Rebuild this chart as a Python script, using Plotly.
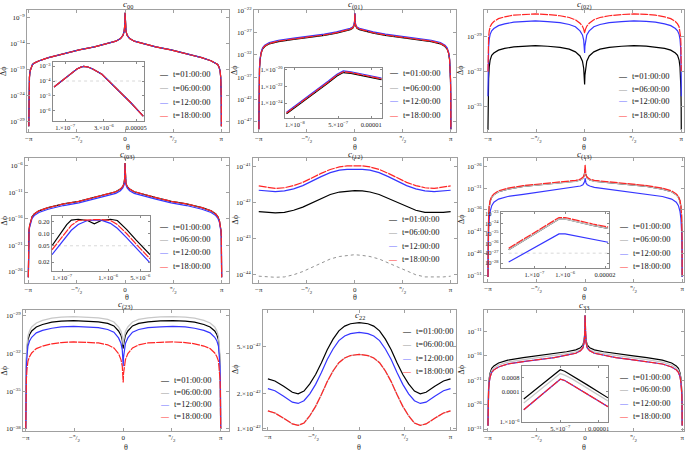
import plotly.graph_objects as go

W, H = 685, 452
PI = 3.141592653589793
FONT = "Liberation Serif"

# ---------------- data (log10 of Δϕ) ----------------
TIMES = ["t=01:00:00", "t=06:00:00", "t=12:00:00", "t=18:00:00"]

# theta samples on the left half (-π..0); every curve is mirror symmetric in θ
TH_CUSP = [-PI, -3.138, -3.13, -3.12, -3.10, -3.07, -3.02, -2.95, -2.8, -2.5,
           -2.0, -1.5, -1.0, -0.6, -0.3, -0.15, -0.07, -0.03, -0.01, 0.0]
TH_DIP = [-PI, -3.138, -3.13, -3.12, -3.10, -3.07, -3.02, -2.95, -2.8, -2.6, -2.3,
          -2.0, -1.6, -1.2, -0.8, -0.5, -0.3, -0.15, -0.07, -0.03, -0.01, 0.0]
TH_C12 = [-PI, -2.9, -2.6, -2.3, -2.0, -1.7, -1.4, -1.1, -0.8, -0.5, -0.25, 0.0]
TH_C22 = [-PI, -2.9, -2.6, -2.3, -2.1, -1.9, -1.7, -1.5, -1.3, -1.1, -0.9, -0.7, -0.5, -0.3, 0.0]

c00_all = [-30.0, -24.5, -22.0, -20.5, -19.3, -18.6, -18.0, -17.7, -17.3, -16.7,
           -15.9, -15.2, -14.6, -14.0, -13.5, -13.0, -12.4, -11.6, -10.4, -8.0]

c01_t01 = [-48.7, -41.1, -37.6, -35.1, -33.1, -31.7, -30.7, -30.1, -29.5, -29.0,
           -28.5, -28.1, -27.6, -27.1, -26.6, -26.3, -26.0, -25.5, -24.7, -22.7]
c01_t06 = [-48.7, -41.0, -37.5, -35.0, -33.0, -31.6, -30.6, -30.0, -29.4, -28.9,
           -28.4, -28.0, -27.5, -27.0, -26.5, -26.2, -25.9, -25.4, -24.6, -22.7]
c01_t12 = [-48.7, -40.8, -37.3, -34.8, -32.8, -31.4, -30.4, -29.8, -29.2, -28.7,
           -28.2, -27.8, -27.3, -26.8, -26.3, -26.0, -25.7, -25.2, -24.4, -22.6]
c01_t18 = c01_t06

c02_t01 = [-37.0, -35.0, -33.5, -32.6, -31.6, -31.0, -30.6, -30.4, -30.15, -30.0, -29.87,
           -29.8, -29.77, -29.82, -29.92, -30.07, -30.3, -30.65, -31.1, -31.7, -32.3, -33.1]
c02_t12 = [-34.1, -32.0, -30.7, -29.9, -29.2, -28.8, -28.5, -28.3, -28.05, -27.9, -27.75,
           -27.68, -27.65, -27.7, -27.8, -27.95, -28.15, -28.5, -28.85, -29.3, -29.8, -30.4]
c02_t18 = [-32.0, -30.5, -29.6, -29.0, -28.5, -28.15, -27.9, -27.7, -27.45, -27.3, -27.15,
           -27.08, -27.05, -27.1, -27.2, -27.35, -27.55, -27.85, -28.1, -28.35, -28.55, -28.7]

c03_t01 = [-27.0, -21.5, -19.3, -18.2, -17.3, -16.4, -15.6, -15.1, -14.5, -13.9,
           -13.2, -12.7, -12.0, -11.4, -10.9, -10.4, -9.9, -9.3, -8.3, -5.5]
c03_t12 = [-27.0, -21.8, -19.6, -18.5, -17.6, -16.7, -15.9, -15.4, -14.8, -14.2,
           -13.5, -13.0, -12.3, -11.7, -11.2, -10.7, -10.2, -9.6, -8.6, -5.6]

c12_t01 = [-42.25, -42.27, -42.28, -42.27, -42.21, -42.12, -42.0, -41.88, -41.77, -41.7, -41.67, -41.66]
c12_t06 = [-44.05, -44.07, -44.08, -44.07, -44.01, -43.92, -43.8, -43.68, -43.57, -43.5, -43.47, -43.45]
c12_t12 = [-41.65, -41.67, -41.69, -41.67, -41.61, -41.52, -41.39, -41.27, -41.16, -41.09, -41.07, -41.06]
c12_t18 = [-41.53, -41.56, -41.6, -41.58, -41.52, -41.43, -41.3, -41.18, -41.07, -41.0, -40.97, -40.96]

c13_t01 = [-51.4, -43.0, -39.5, -37.3, -35.3, -34.0, -33.1, -32.5, -31.8, -31.2,
           -30.6, -30.2, -29.9, -29.6, -29.4, -29.1, -28.7, -28.2, -27.6, -26.6]
c13_t12 = [-51.4, -45.0, -42.0, -40.0, -38.0, -36.3, -35.0, -34.2, -33.5, -32.9,
           -32.4, -31.9, -31.5, -31.1, -30.8, -30.5, -30.2, -29.8, -29.4, -28.7]
c13_t18 = [-51.4, -42.8, -39.3, -37.1, -35.1, -33.8, -32.9, -32.3, -31.6, -31.0,
           -30.4, -30.0, -29.7, -29.4, -29.2, -28.9, -28.5, -28.0, -27.3, -25.6]

c23_t01 = [-38.0, -35.0, -33.5, -32.5, -31.6, -30.9, -30.5, -30.2, -29.88, -29.68, -29.5,
           -29.41, -29.37, -29.4, -29.47, -29.6, -29.8, -30.2, -30.55, -30.95, -31.3, -31.6]
c23_t06 = [-38.0, -34.7, -33.2, -32.2, -31.3, -30.6, -30.2, -29.88, -29.56, -29.36, -29.18,
           -29.09, -29.05, -29.08, -29.15, -29.28, -29.48, -29.88, -30.23, -30.63, -30.98, -31.3]
c23_t12 = [-38.0, -35.5, -34.0, -33.0, -32.1, -31.4, -31.0, -30.7, -30.35, -30.15, -29.98,
           -29.88, -29.84, -29.87, -29.93, -30.08, -30.3, -30.75, -31.2, -31.7, -32.3, -33.0]
c23_t18 = [-38.0, -36.0, -34.8, -34.0, -33.2, -32.6, -32.25, -31.95, -31.6, -31.4, -31.22,
           -31.12, -31.07, -31.1, -31.15, -31.3, -31.55, -32.0, -32.5, -33.0, -33.6, -34.3]

# c22 in units of 1e-42
c22_t01 = [2.65, 2.54, 2.29, 2.04, 1.98, 2.09, 2.40, 2.88, 3.63, 4.68, 5.75, 6.76, 7.41, 7.76, 7.94]
c22_t12 = [2.19, 2.10, 1.89, 1.68, 1.64, 1.73, 1.98, 2.38, 3.00, 3.86, 4.74, 5.58, 6.11, 6.40, 6.56]
c22_t18 = [1.42, 1.36, 1.23, 1.10, 1.07, 1.12, 1.29, 1.55, 1.95, 2.51, 3.09, 3.63, 3.98, 4.17, 4.27]

c33_t01 = [-30.3, -25.5, -23.3, -22.0, -20.6, -19.5, -18.6, -18.1, -17.5, -16.9,
           -16.4, -16.0, -15.6, -15.2, -14.8, -14.4, -13.8, -12.8, -11.3, -7.66]
c33_t06 = [-30.3, -25.9, -23.7, -22.4, -21.0, -19.9, -19.0, -18.5, -17.9, -17.3,
           -16.8, -16.4, -16.0, -15.6, -15.2, -14.8, -14.2, -13.1, -11.5, -7.7]
c33_t18 = [-30.3, -26.3, -24.1, -22.8, -21.4, -20.3, -19.4, -18.9, -18.3, -17.7,
           -17.2, -16.8, -16.4, -15.9, -15.5, -15.0, -14.4, -13.3, -11.7, -7.8]

# insets: log10(θ) vs log10(Δϕ)
in00_x = [-7.42, -7.1, -6.8, -6.55, -6.4, -6.3, -6.15, -5.95, -5.6, -5.0, -4.5, -4.03]
in00_y = [-4.4, -3.95, -3.52, -3.2, -3.07, -3.02, -3.05, -3.2, -3.55, -4.55, -5.45, -6.35]
in00_ref = -4.0

in01_x = [-8.33, -7.8, -7.2, -6.7, -6.35, -6.1, -5.8, -5.3, -4.6]
in01_t01 = [-25.3, -24.1, -22.8, -21.6, -20.75, -20.35, -20.45, -20.75, -21.2]
in01_t06 = [-25.2, -24.0, -22.7, -21.5, -20.65, -20.25, -20.35, -20.65, -21.1]
in01_t12 = [-25.1, -23.9, -22.6, -21.4, -20.55, -20.15, -20.25, -20.55, -21.0]

in03_x = [-7.22, -7.05, -6.9, -6.8, -6.65, -6.45, -6.3, -6.15, -5.95, -5.8, -5.6, -5.4, -5.2, -5.09]
in03_t01 = [-1.3, -1.02, -0.78, -0.67, -0.65, -0.68, -0.76, -0.68, -0.65, -0.68, -0.9, -1.15, -1.4, -1.52]
in03_t12 = [-1.52, -1.28, -1.05, -0.92, -0.78, -0.68, -0.67, -0.67, -0.75, -0.87, -1.1, -1.35, -1.6, -1.72]
in03_t18 = [-1.4, -1.15, -0.92, -0.8, -0.68, -0.66, -0.66, -0.66, -0.68, -0.78, -1.0, -1.25, -1.5, -1.62]
in03_ref = -1.301

in13_x = [-7.84, -7.5, -7.1, -6.7, -6.4, -6.2, -6.0, -5.6, -5.1, -4.6]
in13_t01 = [-26.65, -26.0, -25.25, -24.5, -23.9, -23.55, -23.55, -23.85, -24.2, -24.5]
in13_t12 = [-27.9, -27.3, -26.6, -25.9, -25.35, -25.05, -25.05, -25.3, -25.6, -25.9]
in13_t18 = [-26.5, -25.85, -25.1, -24.35, -23.75, -23.4, -23.4, -23.7, -24.05, -24.35]
in13_ref = -27.0

in33_x = [-7.54, -7.2, -6.9, -6.6, -6.4, -6.3, -6.15, -5.9, -5.4, -4.68]
in33_t01 = [-4.5, -3.97, -3.5, -3.03, -2.72, -2.6, -2.7, -2.98, -3.57, -4.43]
in33_t06 = [-4.76, -4.23, -3.76, -3.29, -2.98, -2.85, -2.95, -3.2, -3.78, -4.63]
in33_t18 = [-5.2, -4.67, -4.2, -3.73, -3.38, -3.22, -3.3, -3.58, -4.15, -5.0]

# ---------------- styling ----------------
COLORS = ["#000000", "#777777", "#3535ff", "#ff2424"]
GLYPH = ["#000000", "#9a9a9a", "#7070ff", "#ff3a3a"]


def line_style(k, light_gray):
    if k == 1:
        if light_gray:
            return dict(color="#c8c8c8", width=1.3)
        return dict(color="#777777", width=0.8, dash="dot")
    if k == 3:
        return dict(color=COLORS[3], width=1.2, dash="8px,1px")
    return dict(color=COLORS[k], width=1.2)


def mirror(th, vals):
    return th + [-t for t in th[-2::-1]], vals + vals[-2::-1]


def dom(x0, x1, y0, y1):
    return [x0 / W, x1 / W], [1 - y1 / H, 1 - y0 / H]


def axis_base(size):
    return dict(showline=True, linecolor="#a0a0a0", linewidth=1, mirror="ticks",
                ticks="inside", ticklen=3, tickcolor="#a0a0a0", showgrid=False,
                zeroline=False, automargin=False,
                tickfont=dict(family=FONT, size=size, color="#222"))


def pow10(e):
    return "10<sup>\u2212%d</sup>" % (-e)


def sci(m, e):
    return "%d.\u00d710<sup>\u2212%d</sup>" % (m, -e)


def note(text, px, py, size, **kw):
    d = dict(text=text, x=px / W, y=1 - py / H, xref="paper", yref="paper",
             xanchor="center", yanchor="middle", showarrow=False,
             font=dict(family=FONT, size=size, color="#222"))
    d.update(kw)
    return d


fig = go.Figure()
ann = []
lay = {}


def ax_names(i):
    s = "" if i == 1 else str(i)
    return "x" + s, "y" + s, "xaxis" + s, "yaxis" + s


# main panels: id, box(px), x range, y range(log10), y ticks, title, title xy, legend xy,
# series, gray style, θ label y
PANELS = [
    (1, (27, 229, 10, 132), [-3.20, 3.39], [-31.1, -7.46], [-9, -14, -19, -24, -29],
     "<i>c</i><sub>00</sub>", (128, 5), (157, [74, 88, 102, 115]),
     (TH_CUSP, [c00_all, c00_all, c00_all, c00_all]), False, 147),
    (2, (254, 456, 10, 132), [-3.30, 3.31], [-49.3, -21.9], [-22, -27, -32, -37, -42, -47],
     "<i>c</i><sub>(01)</sub>", (355, 5), (387, [73, 88, 101, 115]),
     (TH_CUSP, [c01_t01, c01_t06, c01_t12, c01_t18]), False, 147),
    (3, (484, 684, 10, 132), [-3.27, 3.23], [-37.17, -26.71], [-29, -32, -35],
     "<i>c</i><sub>(02)</sub>", (584, 5), (616, [76, 89, 101, 115]),
     (TH_DIP, [c02_t01, None, c02_t12, c02_t18]), False, 147),
    (4, (25, 229, 158, 283), [-3.25, 3.38], [-28.1, -4.54], [-6, -11, -16, -21, -26],
     "<i>c</i><sub>(03)</sub>", (127, 155), (157, [227, 239, 252, 266]),
     (TH_CUSP, [c03_t01, c03_t01, c03_t12, c03_t01]), False, 297),
    (5, (253, 457, 158, 283), [-3.33, 3.35], [-44.24, -40.75], [-41, -42, -43, -44],
     "<i>c</i><sub>(12)</sub>", (355, 155), (386, [219, 232, 246, 259]),
     (TH_C12, [c12_t01, c12_t06, c12_t12, c12_t18]), False, 297),
    (6, (484, 684, 158, 282), [-3.27, 3.20], [-52.55, -24.06], [-26, -31, -36, -41, -46, -51],
     "<i>c</i><sub>(13)</sub>", (584, 155), (617, [226, 239, 253, 266]),
     (TH_CUSP, [c13_t01, c13_t01, c13_t12, c13_t18]), True, 297),
    (7, (23, 229, 310, 431), [-3.23, 3.41], [-38.16, -28.53], [-29, -32, -35, -38],
     "<i>c</i><sub>(23)</sub>", (126, 305), (158, [380, 392, 404, 416]),
     (TH_DIP, [c23_t01, c23_t06, c23_t12, c23_t18]), True, 447),
    (8, (263, 456, 310, 430), [-3.31, 3.33], [-42.01, -40.994], None,
     "<i>c</i><sub>22</sub>", (360, 315), (400, [331, 344, 358, 371]),
     (TH_C22, [c22_t01, c22_t18, c22_t12, c22_t18]), True, 447),
    (9, (484, 684, 310, 431), [-3.27, 3.20], [-31.4, -6.66], [-11, -16, -21, -26, -31],
     "<i>c</i><sub>33</sub>", (584, 305), (617, [377, 389, 403, 416]),
     (TH_CUSP, [c33_t01, c33_t06, c33_t18, c33_t18]), True, 447),
]

XT_VALS = [-PI, -PI / 2, 0, PI / 2, PI]
XT_TEXT = ["\u2212\u03c0", "\u2212<sup>\u03c0</sup>/<sub>2</sub>", "0",
           "<sup>\u03c0</sup>/<sub>2</sub>", "\u03c0"]

for pid, bx, xr, yr, yt, title, tpos, lpos, (th, series), light, thy in PANELS:
    xn, yn, xk, yk = ax_names(pid)
    xd, yd = dom(*bx)
    for k, vals in enumerate(series):
        if vals is None:
            continue
        tt, vv = mirror(th, vals)
        if pid == 8:
            yy = [v * 1e-42 for v in vv]
        else:
            yy = [10 ** v for v in vv]
        fig.add_trace(go.Scatter(x=tt, y=yy, mode="lines", line=line_style(k, light),
                                 xaxis=xn, yaxis=yn, showlegend=False, hoverinfo="skip"))
    xa = axis_base(7)
    xa.update(domain=xd, anchor=yn, range=xr, tickvals=XT_VALS, ticktext=XT_TEXT)
    ya = axis_base(7)
    ya.update(domain=yd, anchor=xn, type="log", range=yr)
    if pid == 8:
        ya.update(tickvals=[1e-42, 2e-42, 5e-42],
                  ticktext=[sci(1, -42), sci(2, -42), sci(5, -42)])
    else:
        ya.update(tickvals=[10 ** e for e in yt], ticktext=[pow10(e) for e in yt])
    lay[xk] = xa
    lay[yk] = ya

    cx = (bx[0] + bx[1]) / 2
    ann.append(note(title, tpos[0], tpos[1], 9))
    ann.append(note("\u03b8", cx, thy, 8))
    lx = {0: 4, 1: 235, 2: 461}[(pid - 1) % 3]
    ann.append(note("\u0394\u03d5", lx, (bx[2] + bx[3]) / 2, 8, textangle=-90))
    for k, ly in enumerate(lpos[1]):
        ann.append(note("\u2014", lpos[0], ly, 8, xanchor="left",
                        font=dict(family=FONT, size=8, color=GLYPH[k])))
        ann.append(note(TIMES[k], lpos[0] + 14, ly, 8.5, xanchor="left",
                        font=dict(family=FONT, size=8.5, color="#111111")))

# insets: id, box(px), x range, y range, x ticks, y ticks, x data, series, reference level
INSETS = [
    (10, (53, 144, 62, 121), [-7.46, -4.0], [-6.67, -2.73],
     ([1e-7, 3e-6, 5e-5], [sci(1, -7), sci(3, -6), "0.00005"]),
     ([1e-3, 1e-4, 1e-5, 1e-6], [pow10(-3), pow10(-4), pow10(-5), pow10(-6)]),
     in00_x, [in00_y, in00_y, in00_y, in00_y], in00_ref, False),
    (11, (285, 382, 68, 118), [-8.39, -4.58], [-25.8, -19.8],
     ([1e-8, 5e-7, 1e-5], [sci(1, -8), sci(5, -7), "0.00001"]),
     ([1e-20, 1e-22, 1e-24], [sci(1, -20), sci(1, -22), sci(1, -24)]),
     in01_x, [in01_t01, in01_t06, in01_t12, in01_t06], None, False),
    (12, (52, 150, 216, 271), [-7.22, -5.09], [-1.92, -0.57],
     ([1e-7, 1e-6, 5e-6], [sci(1, -7), sci(1, -6), sci(5, -6)]),
     ([0.2, 0.1, 0.05, 0.02], ["0.20", "0.10", "0.05", "0.02"]),
     in03_x, [in03_t01, None, in03_t12, in03_t18], in03_ref, False),
    (13, (501, 609, 212, 268), [-8.09, -4.57], [-28.5, -22.84],
     ([1e-7, 1e-6, 2e-5], [sci(1, -7), sci(1, -6), "0.00002"]),
     ([10 ** e for e in range(-23, -29, -1)], [pow10(e) for e in range(-23, -29, -1)]),
     in13_x, [in13_t01, in13_t01, in13_t12, in13_t18], in13_ref, True),
    (14, (522, 608, 366, 422), [-7.6, -4.68], [-6.0, -2.36],
     ([5e-7, 1e-5], [sci(5, -7), "0.00001"]),
     ([8e-4, 1e-4, 1e-6], ["0.0008", "0.0001", sci(1, -6)]),
     in33_x, [in33_t01, in33_t06, in33_t18, in33_t18], None, True),
]

for iid, bx, xr, yr, (xtv, xtt), (ytv, ytt), xs, series, ref, light in INSETS:
    xn, yn, xk, yk = ax_names(iid)
    xd, yd = dom(*bx)
    xx = [10 ** v for v in xs]
    if ref is not None:
        fig.add_trace(go.Scatter(x=[xx[0], xx[-1]], y=[10 ** ref, 10 ** ref], mode="lines",
                                 line=dict(color="#cfcfcf", width=0.8, dash="dot"),
                                 xaxis=xn, yaxis=yn, showlegend=False, hoverinfo="skip"))
    for k, vals in enumerate(series):
        if vals is None:
            continue
        fig.add_trace(go.Scatter(x=xx, y=[10 ** v for v in vals], mode="lines",
                                 line=line_style(k, light), xaxis=xn, yaxis=yn,
                                 showlegend=False, hoverinfo="skip"))
    xa = axis_base(6.5)
    xa.update(domain=xd, anchor=yn, type="log", range=xr, tickvals=xtv, ticktext=xtt,
              ticklen=2, linecolor="#8a8a8a", tickcolor="#8a8a8a", linewidth=1.2)
    ya = axis_base(6.5)
    ya.update(domain=yd, anchor=xn, type="log", range=yr, tickvals=ytv, ticktext=ytt,
              ticklen=2, linecolor="#8a8a8a", tickcolor="#8a8a8a", linewidth=1.2)
    lay[xk] = xa
    lay[yk] = ya

fig.update_layout(width=W, height=H, margin=dict(l=0, r=0, t=0, b=0),
                  paper_bgcolor="white", plot_bgcolor="rgba(0,0,0,0)",
                  showlegend=False, annotations=ann, **lay)

# the page body has a default 8px margin; drop it so the figure sits at the window origin
fig.write_html("out.html", config={"displayModeBar": False},
               post_script="document.body.style.margin='0px';")
